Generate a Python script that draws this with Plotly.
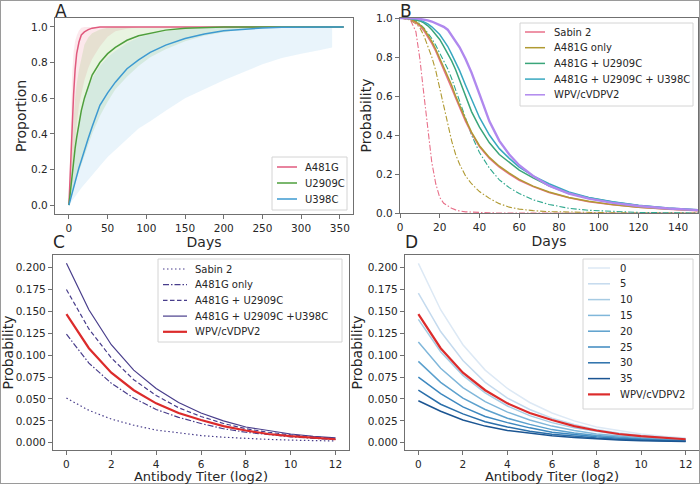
import plotly.graph_objects as go

# ---------------- data ----------------
# Panel A: proportion vs days
A_days = [0, 2, 4, 6, 8, 10, 13, 16, 20, 25, 30, 40, 50, 60, 75, 90, 105, 125, 150, 175, 200, 225, 250, 275, 300, 325, 340]
A_line_end_day = 355
A481G_mid = [0, 0.23, 0.45, 0.62, 0.76, 0.85, 0.915, 0.955, 0.972, 0.985, 0.993, 0.999, 1, 1, 1, 1, 1, 1, 1, 1, 1, 1, 1, 1, 1, 1, 1]
A481G_hi = [0, 0.40, 0.72, 0.86, 0.92, 0.95, 0.98, 0.995, 1, 1, 1, 1, 1, 1, 1, 1, 1, 1, 1, 1, 1, 1, 1, 1, 1, 1, 1]
A481G_lo = [0, 0.10, 0.19, 0.28, 0.36, 0.45, 0.56, 0.63, 0.70, 0.77, 0.82, 0.89, 0.945, 0.975, 0.99, 1, 1, 1, 1, 1, 1, 1, 1, 1, 1, 1, 1]
U2909C_mid = [0, 0.09, 0.17, 0.25, 0.32, 0.38, 0.46, 0.53, 0.60, 0.67, 0.73, 0.80, 0.85, 0.885, 0.925, 0.95, 0.965, 0.982, 0.993, 0.998, 1, 1, 1, 1, 1, 1, 1]
U2909C_hi = [0, 0.18, 0.35, 0.48, 0.60, 0.68, 0.76, 0.83, 0.90, 0.94, 0.965, 0.985, 0.995, 1, 1, 1, 1, 1, 1, 1, 1, 1, 1, 1, 1, 1, 1]
U2909C_lo = [0, 0.03, 0.06, 0.09, 0.12, 0.15, 0.19, 0.23, 0.28, 0.34, 0.40, 0.50, 0.58, 0.65, 0.72, 0.78, 0.83, 0.875, 0.92, 0.95, 0.97, 0.985, 0.995, 1, 1, 1, 1]
U398C_mid = [0, 0.035, 0.07, 0.10, 0.13, 0.16, 0.21, 0.25, 0.31, 0.375, 0.44, 0.56, 0.63, 0.69, 0.765, 0.815, 0.857, 0.898, 0.935, 0.96, 0.978, 0.988, 0.994, 0.998, 1, 1, 1]
U398C_hi = [0, 0.08, 0.16, 0.24, 0.31, 0.37, 0.45, 0.52, 0.59, 0.66, 0.71, 0.78, 0.83, 0.865, 0.91, 0.94, 0.96, 0.975, 0.988, 0.995, 1, 1, 1, 1, 1, 1, 1]
U398C_lo = [0, 0.012, 0.024, 0.036, 0.048, 0.06, 0.078, 0.096, 0.12, 0.145, 0.17, 0.22, 0.27, 0.31, 0.37, 0.43, 0.47, 0.53, 0.60, 0.65, 0.70, 0.745, 0.79, 0.825, 0.85, 0.87, 0.885]
A_names = ["A481G", "U2909C", "U398C"]

# Panel B: probability vs days
B_days = [0, 5, 8, 10, 12, 14, 16, 18, 20, 22, 24, 26, 28, 30, 33, 36, 40, 45, 50, 55, 60, 67, 75, 85, 95, 107, 120, 135, 150]
B_names = ["Sabin 2", "A481G only", "A481G + U2909C", "A481G + U2909C + U398C", "WPV/cVDPV2"]
B_sabin2 = [1, 0.995, 0.975, 0.96, 0.935, 0.905, 0.87, 0.83, 0.78, 0.735, 0.69, 0.64, 0.59, 0.54, 0.47, 0.41, 0.34, 0.28, 0.235, 0.2, 0.168, 0.135, 0.105, 0.078, 0.058, 0.042, 0.029, 0.019, 0.012]
B_a481g = [1, 0.996, 0.98, 0.965, 0.945, 0.915, 0.88, 0.84, 0.795, 0.75, 0.70, 0.655, 0.60, 0.55, 0.48, 0.415, 0.345, 0.285, 0.24, 0.205, 0.172, 0.138, 0.108, 0.08, 0.06, 0.043, 0.03, 0.02, 0.013]
B_a481g_u2909c = [1, 0.998, 0.99, 0.985, 0.975, 0.96, 0.94, 0.915, 0.89, 0.855, 0.82, 0.78, 0.735, 0.68, 0.60, 0.52, 0.44, 0.36, 0.30, 0.26, 0.22, 0.18, 0.14, 0.10, 0.078, 0.056, 0.039, 0.025, 0.016]
B_triple = [1, 0.999, 0.995, 0.99, 0.982, 0.97, 0.955, 0.935, 0.915, 0.885, 0.855, 0.815, 0.775, 0.73, 0.655, 0.58, 0.49, 0.40, 0.33, 0.28, 0.235, 0.19, 0.15, 0.108, 0.08, 0.058, 0.04, 0.026, 0.017]
B_wpv = [1, 1, 0.998, 0.995, 0.992, 0.988, 0.982, 0.974, 0.965, 0.955, 0.94, 0.91, 0.88, 0.85, 0.79, 0.72, 0.61, 0.47, 0.37, 0.30, 0.245, 0.19, 0.14, 0.10, 0.074, 0.052, 0.036, 0.023, 0.015]
B_sabin2_dd = [1, 0.995, 0.93, 0.79, 0.61, 0.43, 0.26, 0.15, 0.08, 0.05, 0.035, 0.024, 0.016, 0.01, 0.006, 0.004, 0.002, 0.001, 0, 0, 0, 0, 0, 0, 0, 0, 0, 0, 0]
B_a481g_dd = [1, 0.99, 0.97, 0.95, 0.91, 0.86, 0.80, 0.73, 0.64, 0.55, 0.45, 0.37, 0.30, 0.25, 0.19, 0.15, 0.11, 0.075, 0.048, 0.03, 0.02, 0.012, 0.007, 0.004, 0.002, 0.001, 0, 0, 0]
B_a481g_u2909c_dd = [1, 0.997, 0.985, 0.97, 0.95, 0.925, 0.895, 0.86, 0.82, 0.78, 0.74, 0.69, 0.63, 0.57, 0.48, 0.40, 0.31, 0.23, 0.17, 0.13, 0.1, 0.068, 0.044, 0.024, 0.014, 0.007, 0.003, 0.001, 0]

# Panel C and D: probability vs antibody titer (log2)
titer = [0, 1, 2, 3, 4, 5, 6, 7, 8, 9, 10, 11, 12]
C_names = ["Sabin 2", "A481G only", "A481G + U2909C", "A481G + U2909C +U398C", "WPV/cVDPV2"]
C_sabin2 = [0.051, 0.037, 0.027, 0.020, 0.0145, 0.011, 0.0082, 0.0063, 0.0049, 0.0038, 0.003, 0.0025, 0.002]
C_a481g = [0.124, 0.091, 0.068, 0.051, 0.038, 0.029, 0.022, 0.016, 0.012, 0.009, 0.0068, 0.005, 0.0037]
C_a481g_u2909c = [0.175, 0.130, 0.097, 0.072, 0.054, 0.040, 0.030, 0.022, 0.016, 0.012, 0.009, 0.0066, 0.0048]
C_triple = [0.205, 0.152, 0.112, 0.083, 0.062, 0.046, 0.034, 0.025, 0.018, 0.014, 0.010, 0.0074, 0.0055]
WPV_titer = [0.147, 0.108, 0.080, 0.060, 0.045, 0.034, 0.026, 0.019, 0.014, 0.010, 0.0075, 0.0055, 0.004]

D_days_labels = ["0", "5", "10", "15", "20", "25", "30", "35"]
D_curves = [
    [0.205, 0.152, 0.112, 0.083, 0.062, 0.046, 0.034, 0.025, 0.018, 0.014, 0.010, 0.0074, 0.0055],
    [0.171, 0.127, 0.094, 0.069, 0.051, 0.038, 0.028, 0.021, 0.015, 0.011, 0.0084, 0.0062, 0.0046],
    [0.141, 0.104, 0.077, 0.057, 0.042, 0.031, 0.023, 0.017, 0.013, 0.0094, 0.0069, 0.0051, 0.0038],
    [0.115, 0.085, 0.063, 0.047, 0.035, 0.026, 0.019, 0.014, 0.010, 0.0077, 0.0056, 0.0041, 0.0031],
    [0.093, 0.069, 0.051, 0.038, 0.028, 0.021, 0.015, 0.011, 0.0084, 0.0062, 0.0046, 0.0033, 0.0025],
    [0.075, 0.056, 0.041, 0.030, 0.023, 0.017, 0.012, 0.0092, 0.0068, 0.005, 0.0037, 0.0027, 0.002],
    [0.060, 0.044, 0.033, 0.024, 0.018, 0.013, 0.0098, 0.0073, 0.0054, 0.004, 0.0029, 0.0022, 0.0016],
    [0.048, 0.036, 0.026, 0.019, 0.014, 0.011, 0.0079, 0.0059, 0.0043, 0.0032, 0.0024, 0.0017, 0.0013],
]

# ---------------- styles ----------------
W, H = 700, 484
FONT = "DejaVu Sans"
TXT = "#262626"
SPINE = "#707070"
A_colors = ["#e05a7e", "#4e9f3d", "#3d9ad1"]
A_fill = ["rgba(232,100,130,0.15)", "rgba(120,185,70,0.16)", "rgba(70,165,225,0.12)"]
B_colors = ["#e8708a", "#b09a32", "#3aa57a", "#38a8c0", "#b088ee"]
C_color = "#483d8b"
RED = "#dc2b2b"
D_colors = ["#dde9f5", "#c4daee", "#a6cbe3", "#80b7da", "#5ba0cd", "#3d88bf", "#2a6faa", "#1b5592"]
DASHDOT = "6px,2px,1.5px,2px"


def hx(p):
    return p / W


def vy(p):
    return 1 - p / H


fig = go.Figure()

# Panel A bands and lines
A_mid = [A481G_mid, U2909C_mid, U398C_mid]
A_hi = [A481G_hi, U2909C_hi, U398C_hi]
A_lo = [A481G_lo, U2909C_lo, U398C_lo]
for i in range(3):
    fig.add_trace(go.Scatter(
        x=A_days + A_days[::-1], y=A_hi[i] + A_lo[i][::-1], fill="toself",
        fillcolor=A_fill[i], line=dict(width=0), mode="lines", hoverinfo="skip",
        showlegend=False, xaxis="x", yaxis="y"))
for i in range(3):
    fig.add_trace(go.Scatter(
        x=A_days + [A_line_end_day], y=A_mid[i] + [A_mid[i][-1]], mode="lines",
        line=dict(color=A_colors[i], width=1.5), name=A_names[i],
        showlegend=False, xaxis="x", yaxis="y"))

# Panel B
B_solid = [B_sabin2, B_a481g, B_a481g_u2909c, B_triple, B_wpv]
B_widths = [1.5, 1.5, 1.5, 1.5, 2.4]
B_dd = [B_sabin2_dd, B_a481g_dd, B_a481g_u2909c_dd]
B_dd_colors = [B_colors[0], B_colors[1], "#2fa88e"]
for i, ys in enumerate(B_dd):
    fig.add_trace(go.Scatter(
        x=B_days, y=ys, mode="lines", showlegend=False,
        line=dict(color=B_dd_colors[i], width=1.1, dash=DASHDOT),
        xaxis="x2", yaxis="y2"))
for i, ys in enumerate(B_solid):
    fig.add_trace(go.Scatter(
        x=B_days, y=ys, mode="lines", name=B_names[i], showlegend=False,
        line=dict(color=B_colors[i], width=B_widths[i]),
        xaxis="x2", yaxis="y2"))

# Panel C
C_series = [C_sabin2, C_a481g, C_a481g_u2909c, C_triple, WPV_titer]
C_dash = ["1.5px,2.5px", DASHDOT, "4.5px,2.5px", "solid", "solid"]
C_colors = [C_color, C_color, C_color, C_color, RED]
C_widths = [1.2, 1.2, 1.2, 1.2, 2.2]
for i, ys in enumerate(C_series):
    fig.add_trace(go.Scatter(
        x=titer, y=ys, mode="lines", name=C_names[i], showlegend=False,
        line=dict(color=C_colors[i], width=C_widths[i], dash=C_dash[i]), xaxis="x3", yaxis="y3"))

# Panel D
D_series = D_curves + [WPV_titer]
D_names = D_days_labels + ["WPV/cVDPV2"]
D_all_colors = D_colors + [RED]
D_widths = [1.5] * 8 + [2.2]
for i, ys in enumerate(D_series):
    fig.add_trace(go.Scatter(
        x=titer, y=ys, mode="lines", name=D_names[i], showlegend=False,
        line=dict(color=D_all_colors[i], width=D_widths[i]), xaxis="x4", yaxis="y4"))

axis_common = dict(showline=True, mirror=True, linecolor=SPINE, linewidth=1.3,
                   ticks="outside", ticklen=4, tickwidth=1, tickcolor=SPINE,
                   showgrid=False, zeroline=False, automargin=False,
                   tickfont=dict(family=FONT, size=10.5, color=TXT))
title_font = dict(family=FONT, size=14, color=TXT)
title_font_c = dict(family=FONT, size=13, color=TXT)

fig.update_layout(
    width=W, height=H, autosize=False,
    margin=dict(l=0, r=0, t=0, b=0, autoexpand=False),
    paper_bgcolor="white", plot_bgcolor="white",
    font=dict(family=FONT, color=TXT),
    showlegend=False,
    xaxis=dict(domain=[hx(55), hx(353)], range=[-18, 367], tickvals=[0, 50, 100, 150, 200, 250, 300, 350],
               title=dict(text="Days", font=title_font, standoff=1), anchor="y", **axis_common),
    yaxis=dict(domain=[vy(214), vy(18)], range=[-0.05, 1.05], tickvals=[0, 0.2, 0.4, 0.6, 0.8, 1.0],
               tickformat=".1f", title=dict(text="Proportion", font=title_font, standoff=1),
               anchor="x", **axis_common),
    xaxis2=dict(domain=[hx(400), hx(698)], range=[0, 150], tickvals=[0, 20, 40, 60, 80, 100, 120, 140],
                title=dict(text="Days", font=title_font, standoff=1), anchor="y2", **axis_common),
    yaxis2=dict(domain=[vy(213), vy(18)], range=[0, 1], tickvals=[0, 0.2, 0.4, 0.6, 0.8, 1.0],
                tickformat=".1f", title=dict(text="Probability", font=title_font, standoff=1),
                anchor="x2", **axis_common),
    xaxis3=dict(domain=[hx(53), hx(349)], range=[-0.6, 12.6], tickvals=[0, 2, 4, 6, 8, 10, 12],
                title=dict(text="Antibody Titer (log2)", font=title_font_c, standoff=3), anchor="y3", **axis_common),
    yaxis3=dict(domain=[vy(450), vy(255)], range=[-0.0083, 0.2145],
                tickvals=[0, 0.025, 0.05, 0.075, 0.1, 0.125, 0.15, 0.175, 0.2], tickformat=".3f",
                title=dict(text="Probability", font=title_font, standoff=1), anchor="x3", **axis_common),
    xaxis4=dict(domain=[hx(405), hx(699)], range=[-0.6, 12.6], tickvals=[0, 2, 4, 6, 8, 10, 12],
                title=dict(text="Antibody Titer (log2)", font=title_font_c, standoff=3), anchor="y4", **axis_common),
    yaxis4=dict(domain=[vy(450), vy(255)], range=[-0.0083, 0.2145],
                tickvals=[0, 0.025, 0.05, 0.075, 0.1, 0.125, 0.15, 0.175, 0.2], tickformat=".3f",
                title=dict(text="Probability", font=title_font, standoff=1), anchor="x4", **axis_common),
)


# ---------------- legends (boxes in pixel layout) ----------------
def draw_legend(box, first_y, step, sample_x, text_x, names, colors, dashes, widths):
    x0, y0, x1, y1 = box
    fig.add_shape(type="rect", xref="paper", yref="paper", x0=hx(x0), x1=hx(x1), y0=vy(y1), y1=vy(y0),
                  line=dict(color="#d4d4d4", width=1), fillcolor="rgba(255,255,255,0.85)", layer="above")
    for k, name in enumerate(names):
        yy = first_y + k * step
        fig.add_shape(type="line", xref="paper", yref="paper", x0=hx(sample_x[0]), x1=hx(sample_x[1]),
                      y0=vy(yy), y1=vy(yy), layer="above",
                      line=dict(color=colors[k], width=widths[k], dash=dashes[k]))
        fig.add_annotation(text=name, x=hx(text_x), y=vy(yy), xref="paper", yref="paper",
                           xanchor="left", yanchor="middle", showarrow=False,
                           font=dict(family=FONT, size=10, color=TXT))


draw_legend((272, 157, 347, 210), 167, 16, (277, 297), 303, A_names, A_colors,
            ["solid"] * 3, [1.5] * 3)
draw_legend((520, 23, 693, 106), 32, 15.7, (525, 545), 552, B_names, B_colors,
            ["solid"] * 5, [1.5] * 5)
draw_legend((158, 259, 342, 342), 269, 15.7, (163, 187), 193, C_names, C_colors,
            C_dash, C_widths)
draw_legend((583, 259, 693, 409), 268, 15.8, (588, 610), 618, D_names, D_all_colors,
            ["solid"] * 9, D_widths)

# panel letters
for lab, x, y in [("A", 61, 11), ("B", 406, 11), ("C", 59, 242), ("D", 411, 242)]:
    fig.add_annotation(text=lab, x=hx(x), y=vy(y), xref="paper", yref="paper",
                       showarrow=False, font=dict(family=FONT, size=17, color=TXT),
                       xanchor="center", yanchor="middle")

# outer frame of the figure
fig.add_shape(type="rect", xref="paper", yref="paper", x0=0, y0=0, x1=1, y1=1,
              line=dict(color="#9a9a9a", width=2))

# remove the browser's default page margin so the 700x484 figure fills the window
fig.write_html("out.html", config={"displayModeBar": False},
               post_script="document.body.style.margin='0';document.body.style.overflow='hidden';")
